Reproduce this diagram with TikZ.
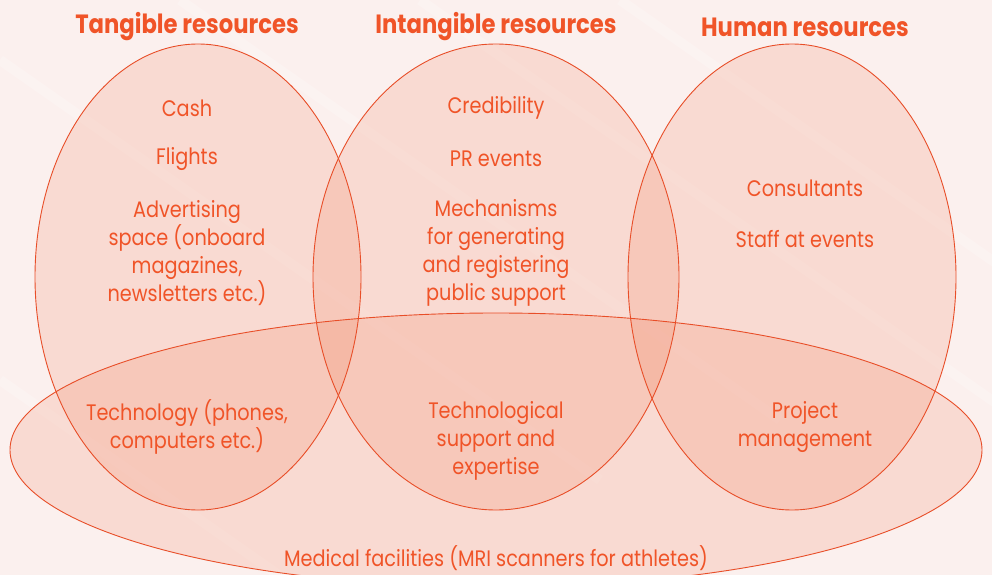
\documentclass[tikz,border=0pt]{standalone}
\usepackage{fontspec}
\setmainfont{Poppins}[FakeStretch=0.86]
\definecolor{vline}{RGB}{232,78,40}
\definecolor{vtext}{RGB}{240,84,40}
\definecolor{vfill}{RGB}{240,112,72}
\definecolor{vback}{RGB}{251,240,238}
\tikzset{
  setfill/.style={fill=vfill, fill opacity=0.17},
  setline/.style={draw=vline, line width=0.9bp},
  heading/.style={text=vtext, font=\fontsize{26.5}{30}\selectfont\bfseries},
  item/.style={text=vtext, align=center, font=\fontsize{22.5}{28}\selectfont}
}

\begin{document}
\begin{tikzpicture}[x=1bp, y=-1bp]
		\useasboundingbox (0,0) rectangle (992,575);
		\clip (0,0) rectangle (992,575);
		\fill[vback] (0,0) rectangle (992,575);
		% faint streaks in the background
		\foreach \a/\b in {0/60, 180/0, 420/0, 0/380, 620/0}
		{
			\draw[white, line width=10bp, opacity=0.2] (\a,\b) -- ++(600,420);
		}
		% sets of resources
		\foreach \x/\rx in {198/163, 496/183, 792/164}
		{
			\fill[setfill] (\x,277) ellipse [x radius=\rx, y radius=233];
		}
		\fill[setfill] (496,450) ellipse [x radius=486, y radius=137];
		\foreach \x/\rx in {198/163, 496/183, 792/164}
		{
			\draw[setline] (\x,277) ellipse [x radius=\rx, y radius=233];
		}
		\draw[setline] (496,450) ellipse [x radius=486, y radius=137];
		% headings
		\node[heading] (tangible) at (187,27) {Tangible resources};
		\node[heading] (intangible) at (496,27) {Intangible resources};
		\node[heading] (human) at (805,27) {Human resources};
		% tangible items
		\node[item] (cash) at (187,108) {Cash};
		\node[item] (flights) at (187,159) {Flights};
		\node[item] (advert) at (187,253) {Advertising\\space (onboard\\magazines,\\newsletters etc.)};
		\node[item] (techno) at (187,427) {Technology (phones,\\computers etc.)};
		% intangible items
		\node[item] (credib) at (496,108) {Credibility};
		\node[item] (prevents) at (496,159) {PR events};
		\node[item] (mechan) at (496,253) {Mechanisms\\for generating\\and registering\\public support};
		\node[item] (support) at (496,441) {Technological\\support and\\expertise};
		% human items
		\node[item] (consult) at (805,188) {Consultants};
		\node[item] (staff) at (805,239) {Staff at events};
		\node[item] (project) at (805,427) {Project\\management};
		% shared by all
		\node[item, inner sep=0pt] (medical) at (496,558) {Medical facilities (MRI scanners for athletes)};
	\end{tikzpicture}
\end{document}
